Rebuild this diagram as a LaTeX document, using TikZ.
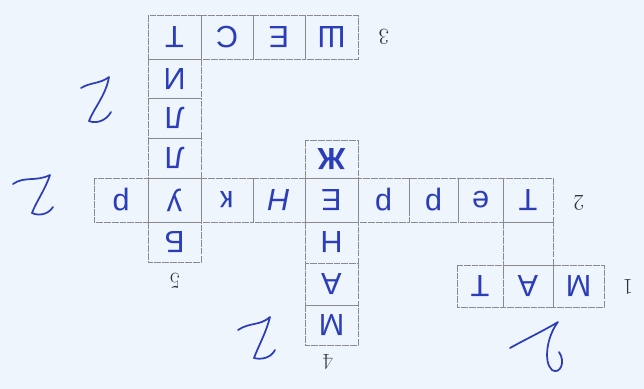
\documentclass[tikz,border=0pt]{standalone}
\usepackage{fontspec}
\newfontfamily\hand{Liberation Sans}
\definecolor{bg}{HTML}{EEF5FC}
\definecolor{ink}{HTML}{2B3DB8}
\definecolor{gridc}{HTML}{8A8A8A}
\begin{document}
\begin{tikzpicture}[x=0.75pt,y=-0.75pt,
  cellbox/.style={draw=gridc, line width=0.6pt, dash pattern=on 5pt off 0.8pt},
  let/.style={text=ink, font=\hand\fontsize{23}{25}\selectfont, rotate=180, inner sep=0pt},
  num/.style={text=black!80, font=\fontsize{17}{18}\selectfont, rotate=180, inner sep=0pt},
  grade/.style={draw=ink, line width=1.3pt, line cap=round, line join=round}]
\fill[bg] (0,0) rectangle (644,389);
\useasboundingbox (0,0) rectangle (644,389);
% word 3 (top row)
\foreach \a/\b in {148/201,201/253,253/305,305/358}
  \draw[cellbox] (\a,15) rectangle (\b,59);
% word 5 (left column)
\foreach \a/\b in {59/98,98/138,138/178,178/222,222/262}
  \draw[cellbox] (148,\a) rectangle (201,\b);
% word 2 (middle row)
\foreach \a/\b in {94/148,148/201,201/253,253/305,305/358,358/409,409/458,458/503,503/553}
  \draw[cellbox] (\a,178) rectangle (\b,222);
% word 4 (middle column)
\foreach \a/\b in {140/178,178/222,222/263,263/305,305/345}
  \draw[cellbox] (305,\a) rectangle (358,\b);
% connecting empty cell and word 1
\draw[cellbox] (503,222) rectangle (553,265);
\foreach \a/\b in {457/503,503/553,553/604}
  \draw[cellbox] (\a,265) rectangle (\b,307);
% letters of word 3
\node[let] (r3a) at (174.5,37) {Т};
\node[let] (r3b) at (227,37) {С};
\node[let] (r3c) at (279,37) {Е};
\node[let] (r3d) at (331.5,37) {Ш};
% letters of word 5
\node[let] (c5a) at (174.5,79) {И};
\node[let] (c5b) at (174.5,118) {Л};
\node[let] (c5c) at (174.5,158) {Л};
\node[let] (c5d) at (174.5,242) {Б};
% letters of word 2
\node[let] (r2a) at (121,200) {р};
\node[let] (r2b) at (174.5,200) {у};
\node[let] (r2c) at (227,200) {к};
\node[let] (r2d) at (279,200) {\itshape Н};
\node[let] (r2e) at (331.5,200) {Е};
\node[let] (r2f) at (383.5,200) {р};
\node[let] (r2g) at (433.5,200) {р};
\node[let] (r2h) at (480.5,200) {е};
\node[let] (r2i) at (528,200) {Т};
% letters of word 4
\node[let] (c4a) at (331.5,159) {\bfseries Ж};
\node[let] (c4b) at (331.5,242.5) {Н};
\node[let] (c4c) at (331.5,284) {А};
\node[let] (c4d) at (331.5,325) {М};
% letters of word 1
\node[let] (r1a) at (480,286) {Т};
\node[let] (r1b) at (528,286) {А};
\node[let] (r1c) at (578.5,286) {М};
% printed numbers
\node[num] (n3) at (384,37) {3};
\node[num] (n2) at (579,203) {2};
\node[num] (n1) at (628,287) {1};
\node[num] (n5) at (175,281) {5};
\node[num] (n4) at (328,362) {4};
% handwritten marks (upside-down 2s)
\draw[grade] (13,184) .. controls (24,176) and (36,182) .. (50,175)
  .. controls (45,190) and (36,202) .. (32,213)
  .. controls (38,216) and (48,215) .. (53,207);
\draw[grade] (81,88) .. controls (91,82) and (100,84) .. (109,77)
  .. controls (106,95) and (94,108) .. (89,121)
  .. controls (96,124) and (106,121) .. (111,112);
\draw[grade] (238,330) .. controls (250,322) and (260,326) .. (270,317)
  .. controls (266,333) and (258,347) .. (254,358)
  .. controls (261,360) and (271,358) .. (275,350);
\draw[grade] (510,348) .. controls (528,338) and (545,330) .. (558,322)
  .. controls (547,336) and (543,362) .. (552,370)
  .. controls (560,375) and (566,362) .. (559,352);
\end{tikzpicture}
\end{document}
